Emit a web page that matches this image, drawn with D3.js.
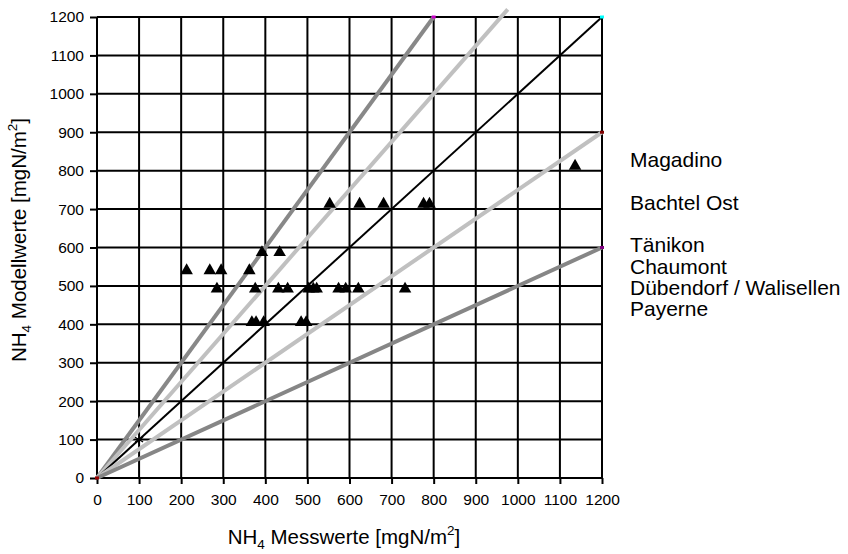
<!DOCTYPE html>
<html>
<head>
<meta charset="utf-8">
<script src="https://cdn.jsdelivr.net/npm/d3@7"></script>
<style>
  body { margin: 0; background: #fff; }
  text { font-family: "Liberation Sans", Arial, sans-serif; fill: #000; }
</style>
</head>
<body>
<svg id="chart"></svg>
<script>
// axis ticks
const ticks = d3.range(0, 1201, 100);

// measured (x) vs modelled (y) deposition per station, mgN/m2
const stations = ["Magadino", "Bachtel Ost", "Tänikon", "Chaumont", "Dübendorf / Walisellen", "Payerne"];
const measured = [
  [1136],
  [553, 624, 681, 776, 790],
  [392, 434],
  [213, 268, 295, 362],
  [285, 376, 431, 453, 503, 514, 522, 574, 591, 621, 732],
  [368, 378, 396, 485, 497]
];
const modelled = [812, 713, 587, 540, 492, 405];

// reference lines through the origin: slope and end x
const refSlopes = [1.5, 1.25, 1, 0.75, 0.5];
const refEndX = [800, 976, 1200, 1200, 1200];
const refColors = ["#888888", "#c0c0c0", "#000000", "#c0c0c0", "#868686"];
const refWidths = [4, 4, 2, 4, 4];

// small end markers of the helper series
const endPoints = [[800, 1200], [1200, 1200], [1200, 900], [1200, 600], [0, 0]];
const endColors = ["#cc00cc", "#00ffff", "#800000", "#800080", "#990000"];

const starPoint = [100, 100];

const width = 848, height = 554;
const margin = { top: 17, right: 246, bottom: 76, left: 97 };

const svg = d3.select("#chart").attr("width", width).attr("height", height);

const x = d3.scaleLinear().domain([0, 1200]).range([margin.left, width - margin.right]);
const y = d3.scaleLinear().domain([0, 1200]).range([height - margin.bottom, margin.top]);

// grid
const grid = svg.append("g").attr("stroke", "#000").attr("stroke-width", 2);
grid.selectAll(".vline").data(ticks).join("line")
  .attr("x1", d => x(d)).attr("x2", d => x(d))
  .attr("y1", y(0)).attr("y2", y(1200));
grid.selectAll(".hline").data(ticks).join("line")
  .attr("x1", x(0)).attr("x2", x(1200))
  .attr("y1", d => y(d)).attr("y2", d => y(d));

// axes
const fmt = d3.format("d");
const xAxis = d3.axisBottom(x).tickValues(ticks).tickFormat(fmt).tickSize(6).tickPadding(10).tickSizeOuter(0);
const yAxis = d3.axisLeft(y).tickValues(ticks).tickFormat(fmt).tickSize(7).tickPadding(6).tickSizeOuter(0);

svg.append("g").attr("transform", `translate(0,${y(0)})`).call(xAxis)
  .call(g => g.select(".domain").remove())
  .call(g => g.selectAll("line").attr("stroke-width", 2))
  .call(g => g.selectAll("text").attr("font-size", 15.5).attr("font-family", "Liberation Sans"));
svg.append("g").attr("transform", `translate(${x(0)},0)`).call(yAxis)
  .call(g => g.select(".domain").remove())
  .call(g => g.selectAll("line").attr("stroke-width", 2))
  .call(g => g.selectAll("text").attr("font-size", 15.5).attr("font-family", "Liberation Sans"));

// reference lines
refSlopes.forEach((s, i) => {
  svg.append("line")
    .attr("x1", x(0)).attr("y1", y(0))
    .attr("x2", x(refEndX[i])).attr("y2", y(refEndX[i] * s))
    .attr("stroke", refColors[i])
    .attr("stroke-width", refWidths[i]);
});

// end markers
svg.selectAll(".endpt").data(endPoints).join("rect")
  .attr("x", d => x(d[0]) - 2).attr("y", d => y(d[1]) - 1.5)
  .attr("width", 4).attr("height", 3)
  .attr("fill", (d, i) => endColors[i]);

// star marker
svg.append("path")
  .attr("transform", `translate(${x(starPoint[0])},${y(starPoint[1])})`)
  .attr("d", d3.symbol(d3.symbolAsterisk, 60)())
  .attr("fill", "none").attr("stroke", "#000").attr("stroke-width", 1.2);

// triangles
const pts = [];
measured.forEach((row, i) => row.forEach(v => pts.push([v, modelled[i]])));
svg.selectAll(".tri").data(pts).join("path")
  .attr("transform", d => `translate(${x(d[0])},${y(d[1])})`)
  .attr("d", d3.symbol(d3.symbolTriangle, 68)())
  .attr("fill", "#000");

// station labels
const labelY = [167, 210, 252, 274, 295, 316];
svg.selectAll(".lab").data(stations).join("text")
  .attr("x", 630).attr("y", (d, i) => labelY[i])
  .attr("font-size", 21).text(d => d);

// axis titles
const xt = svg.append("text")
  .attr("x", 344).attr("y", 544)
  .attr("text-anchor", "middle").attr("font-size", 20.5);
xt.append("tspan").text("NH");
xt.append("tspan").attr("font-size", 13.5).attr("dy", 5).text("4");
xt.append("tspan").attr("dy", -5).text(" Messwerte [mgN/m");
xt.append("tspan").attr("font-size", 13.5).attr("dy", -9).text("2");
xt.append("tspan").attr("dy", 9).text("]");

const yt = svg.append("text")
  .attr("transform", "translate(26,240) rotate(-90)")
  .attr("text-anchor", "middle").attr("font-size", 20.5);
yt.append("tspan").text("NH");
yt.append("tspan").attr("font-size", 13.5).attr("dy", 5).text("4");
yt.append("tspan").attr("dy", -5).text(" Modellwerte [mgN/m");
yt.append("tspan").attr("font-size", 13.5).attr("dy", -9).text("2");
yt.append("tspan").attr("dy", 9).text("]");
</script>
</body>
</html>
